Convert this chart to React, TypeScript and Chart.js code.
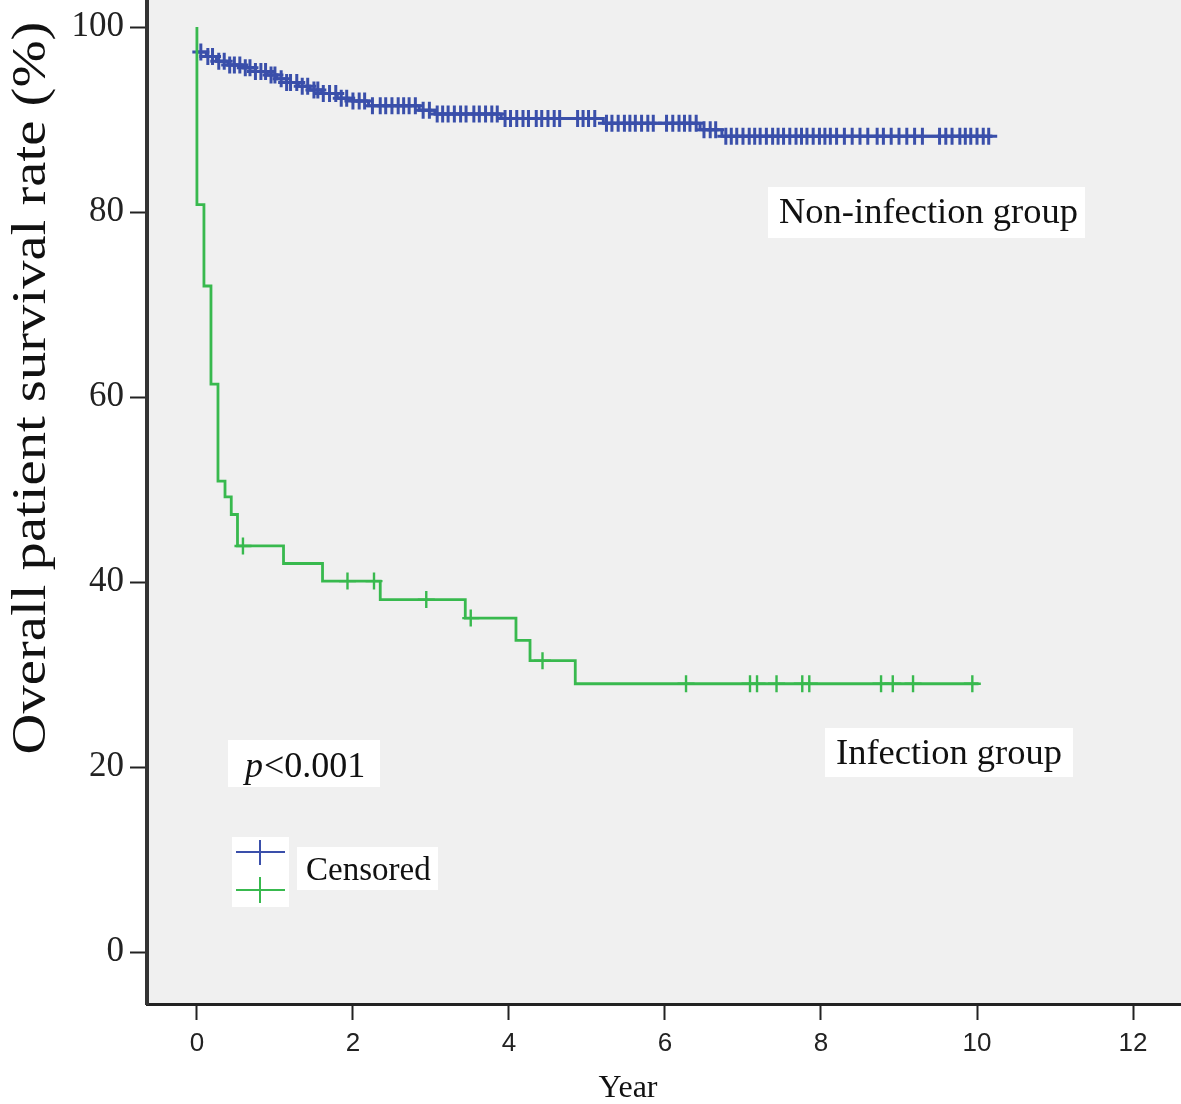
import React, { useEffect, useRef } from 'react';
import { Chart, registerables } from 'chart.js';

Chart.register(...registerables);

// ---- tick labels ----
const xTickValues = [0, 2, 4, 6, 8, 10, 12];
const yTickValues = [0, 20, 40, 60, 80, 100];

// ---- Infection group (Kaplan-Meier steps) ----
const infTimes = [0, 0, 0.09, 0.18, 0.27, 0.36, 0.44, 0.52, 1.11, 1.61, 2.35, 3.44, 4.09, 4.27, 4.85];
const infSurv = [100, 80.8, 72.0, 61.4, 50.9, 49.2, 47.3, 43.9, 42.0, 40.1, 38.1, 36.1, 33.7, 31.5, 29.0];
const infEnd = 10.02;
const infCensor = [0.59, 1.93, 2.27, 2.94, 3.51, 4.43, 6.27, 7.09, 7.18, 7.43, 7.76, 7.85, 8.77, 8.92, 9.18, 9.94];

// ---- Non-infection group (Kaplan-Meier steps) ----
const nonTimes = [0, 0.12, 0.25, 0.4, 0.6, 0.75, 0.9, 1.02, 1.15, 1.3, 1.45, 1.6, 1.8, 2.0, 2.2, 2.85, 3.05, 3.9, 5.21, 6.45, 6.73];
const nonSurv = [97.3, 96.8, 96.3, 95.9, 95.6, 95.2, 94.8, 94.4, 94.0, 93.6, 93.2, 92.8, 92.3, 92.0, 91.5, 91.0, 90.6, 90.1, 89.6, 88.9, 88.2];
const nonEnd = 10.2;
const nonCensor = [
  0.05, 0.14, 0.2, 0.28, 0.35, 0.42, 0.48, 0.55, 0.62, 0.68, 0.75, 0.82, 0.88, 0.95, 1.0, 1.08, 1.15, 1.2,
  1.28, 1.35, 1.42, 1.5, 1.55, 1.62, 1.7, 1.78, 1.85, 1.92, 2.0, 2.08, 2.15, 2.25, 2.35, 2.42, 2.5, 2.58,
  2.65, 2.72, 2.8, 2.9, 2.98, 3.08, 3.15, 3.22, 3.3, 3.38, 3.45, 3.55, 3.62, 3.7, 3.78, 3.85, 3.95, 4.02,
  4.1, 4.18, 4.25, 4.35, 4.42, 4.5, 4.58, 4.65, 4.88, 4.95, 5.02, 5.1, 5.25, 5.32, 5.4, 5.48, 5.55, 5.62,
  5.7, 5.78, 5.85, 6.02, 6.1, 6.18, 6.25, 6.32, 6.4, 6.5, 6.58, 6.65, 6.78, 6.85, 6.92, 7.0, 7.08, 7.15,
  7.22, 7.3, 7.38, 7.45, 7.52, 7.6, 7.68, 7.75, 7.82, 7.9, 7.98, 8.05, 8.12, 8.2, 8.3, 8.4, 8.5, 8.6,
  8.72, 8.8, 8.9, 9.0, 9.1, 9.2, 9.3, 9.52, 9.6, 9.68, 9.78, 9.85, 9.92, 10.0, 10.08, 10.15,
];

const BLUE = '#3a4faa';
const GREEN = '#38b94e';
const SERIF = '"Liberation Serif", "Times New Roman", serif';
const SANS = '"Liberation Sans", Arial, sans-serif';

function stepPoints(times: number[], surv: number[], end: number) {
  const pts = times.map((t, i) => ({ x: t, y: surv[i] }));
  pts.push({ x: end, y: surv[surv.length - 1] });
  return pts;
}

function survAt(times: number[], surv: number[], t: number) {
  let v = surv[0];
  for (let i = 0; i < times.length; i++) {
    if (times[i] <= t) v = surv[i];
  }
  return v;
}

function censorPoints(times: number[], surv: number[], cens: number[]) {
  return cens.map((t) => ({ x: t, y: survAt(times, surv, t) }));
}

function zeroPadding(s: any) {
  s.paddingTop = 0;
  s.paddingBottom = 0;
  s.paddingLeft = 0;
  s.paddingRight = 0;
}

const decorPlugin = {
  id: 'decor',
  beforeDraw(chart: any) {
    const { ctx, chartArea } = chart;
    ctx.save();
    ctx.fillStyle = '#ffffff';
    ctx.fillRect(0, 0, chart.width, chart.height);
    ctx.fillStyle = '#f0f0f0';
    ctx.fillRect(chartArea.left, chartArea.top, chartArea.right - chartArea.left, chartArea.bottom - chartArea.top);
    ctx.restore();
  },
  afterDraw(chart: any) {
    const { ctx } = chart;
    ctx.save();
    // Y axis title (rotated)
    ctx.fillStyle = '#111';
    ctx.save();
    ctx.translate(45, 388);
    ctx.rotate(-Math.PI / 2);
    ctx.scale(1.18, 1);
    ctx.font = `48px ${SERIF}`;
    ctx.textAlign = 'center';
    ctx.textBaseline = 'alphabetic';
    ctx.fillText('Overall patient survival rate (%)', 0, 0);
    ctx.restore();

    // X axis title
    ctx.font = `32px ${SERIF}`;
    ctx.textAlign = 'center';
    ctx.textBaseline = 'alphabetic';
    ctx.fillText('Year', 628, 1097);

    // Group labels
    ctx.textAlign = 'left';
    ctx.fillStyle = '#ffffff';
    ctx.fillRect(768, 187, 317, 51);
    ctx.fillRect(825, 728, 248, 49);
    ctx.fillRect(228, 740, 152, 47);
    ctx.fillStyle = '#111';
    ctx.font = `36.5px ${SERIF}`;
    ctx.fillText('Non-infection group', 779, 223);
    ctx.fillText('Infection group', 836, 764);

    // p value
    ctx.font = `italic 36px ${SERIF}`;
    ctx.fillText('p', 245, 777);
    const pw = ctx.measureText('p').width;
    ctx.font = `36px ${SERIF}`;
    ctx.fillText('<0.001', 245 + pw + 1, 777);

    // Legend
    ctx.fillStyle = '#ffffff';
    ctx.fillRect(232, 837, 57, 70);
    ctx.fillRect(297, 847, 141, 43);
    ctx.lineWidth = 2;
    ctx.strokeStyle = BLUE;
    ctx.beginPath();
    ctx.moveTo(236, 852);
    ctx.lineTo(285, 852);
    ctx.moveTo(260, 840);
    ctx.lineTo(260, 865);
    ctx.stroke();
    ctx.strokeStyle = GREEN;
    ctx.beginPath();
    ctx.moveTo(236, 890);
    ctx.lineTo(285, 890);
    ctx.moveTo(260, 877);
    ctx.lineTo(260, 903);
    ctx.stroke();
    ctx.fillStyle = '#111';
    ctx.font = `33px ${SERIF}`;
    ctx.fillText('Censored', 306, 880);
    ctx.restore();
  },
};

export default function App() {
  const ref = useRef<HTMLCanvasElement | null>(null);

  useEffect(() => {
    document.body.style.margin = '0';
    const canvas = ref.current;
    if (!canvas) return;
    const chart = new Chart(canvas, {
      type: 'scatter',
      data: {
        datasets: [
          {
            label: 'Infection censored',
            data: censorPoints(infTimes, infSurv, infCensor),
            showLine: false,
            pointStyle: 'cross',
            pointRadius: 8.5,
            pointBorderWidth: 2.4,
            borderColor: GREEN,
            backgroundColor: GREEN,
          },
          {
            label: 'Infection group',
            data: stepPoints(infTimes, infSurv, infEnd),
            showLine: true,
            stepped: 'before',
            borderColor: GREEN,
            borderWidth: 2.8,
            pointRadius: 0,
            fill: false,
          },
          {
            label: 'Non-infection censored',
            data: censorPoints(nonTimes, nonSurv, nonCensor),
            showLine: false,
            pointStyle: 'cross',
            pointRadius: 8.5,
            pointBorderWidth: 3,
            borderColor: BLUE,
            backgroundColor: BLUE,
          },
          {
            label: 'Non-infection group',
            data: stepPoints(nonTimes, nonSurv, nonEnd),
            showLine: true,
            stepped: 'before',
            borderColor: BLUE,
            borderWidth: 3,
            pointRadius: 0,
            fill: false,
          },
        ],
      } as any,
      options: {
        animation: false,
        responsive: false,
        maintainAspectRatio: false,
        layout: { padding: 0, autoPadding: false },
        plugins: { legend: { display: false }, tooltip: { enabled: false } },
        scales: {
          x: {
            type: 'linear',
            min: -0.64,
            max: 12.615,
            afterBuildTicks: (s: any) => {
              s.ticks = xTickValues.map((v) => ({ value: v }));
            },
            afterFit: (s: any) => {
              s.height = 100;
              zeroPadding(s);
            },
            grid: { drawOnChartArea: false, drawTicks: true, tickLength: 16, tickWidth: 2, tickColor: '#222' },
            border: { display: true, color: '#222', width: 3 },
            ticks: { font: { family: SANS, size: 26 }, color: '#222', padding: 8, maxRotation: 0, autoSkip: false },
          },
          y: {
            type: 'linear',
            min: -5.62,
            max: 102.92,
            afterBuildTicks: (s: any) => {
              s.ticks = yTickValues.map((v) => ({ value: v }));
            },
            afterFit: (s: any) => {
              s.width = 147;
              zeroPadding(s);
            },
            grid: { drawOnChartArea: false, drawTicks: true, tickLength: 17, tickWidth: 2, tickColor: '#222' },
            border: { display: true, color: '#333', width: 4 },
            ticks: { font: { family: SERIF, size: 35 }, color: '#222', padding: 6, autoSkip: false },
          },
        },
      } as any,
      plugins: [decorPlugin],
    });
    return () => chart.destroy();
  }, []);

  return (
    <div style={{ width: 1181, height: 1104, overflow: 'hidden' }}>
      <canvas ref={ref} width={1181} height={1104} style={{ display: 'block', width: 1181, height: 1104 }} />
    </div>
  );
}
